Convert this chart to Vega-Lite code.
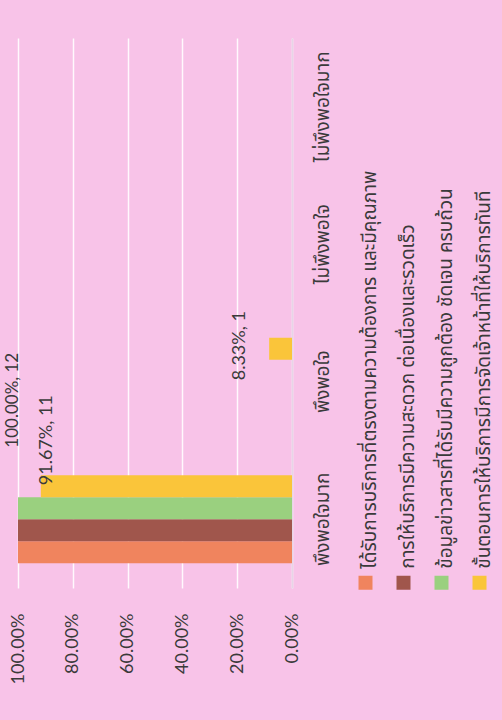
{
  "$schema": "https://vega.github.io/schema/vega-lite/v6.json",
  "width": 274,
  "height": 550,
  "autosize": "none",
  "padding": {"left": 18, "top": 38, "right": 210, "bottom": 132},
  "background": "#f8c3e8",
  "config": {
    "view": {"stroke": null},
    "font": "Lato",
    "legend": {
      "orient": "none",
      "legendX": 338,
      "legendY": 535,
      "direction": "horizontal",
      "symbolType": "square",
      "symbolSize": 196,
      "symbolStrokeWidth": 0,
      "labelOffset": -5,
      "labelAlign": "left",
      "labelBaseline": "middle",
      "labelLimit": 0,
      "labelFontSize": 19,
      "labelFont": "Noto Sans Thai, Tahoma, DejaVu Sans, sans-serif",
      "labelColor": "#3a3a3a",
      "columnPadding": 13
    }
  },
  "data": {
    "values": [
      {"category": "พึงพอใจมาก", "series": "ได้รับการบริการที่ตรงตามความต้องการ และมีคุณภาพ", "pct": 1.0, "count": 12},
      {"category": "พึงพอใจมาก", "series": "การให้บริการมีความสะดวก ต่อเนื่องและรวดเร็ว", "pct": 1.0, "count": 12},
      {"category": "พึงพอใจมาก", "series": "ข้อมูลข่าวสารที่ได้รับมีความถูกต้อง ชัดเจน ครบถ้วน", "pct": 1.0, "count": 12},
      {"category": "พึงพอใจมาก", "series": "ขั้นตอนการให้บริการมีการจัดเจ้าหน้าที่ให้บริการทันที", "pct": 0.9167, "count": 11},
      {"category": "พึงพอใจ", "series": "ได้รับการบริการที่ตรงตามความต้องการ และมีคุณภาพ", "pct": 0, "count": 0},
      {"category": "พึงพอใจ", "series": "การให้บริการมีความสะดวก ต่อเนื่องและรวดเร็ว", "pct": 0, "count": 0},
      {"category": "พึงพอใจ", "series": "ข้อมูลข่าวสารที่ได้รับมีความถูกต้อง ชัดเจน ครบถ้วน", "pct": 0, "count": 0},
      {"category": "พึงพอใจ", "series": "ขั้นตอนการให้บริการมีการจัดเจ้าหน้าที่ให้บริการทันที", "pct": 0.0833, "count": 1}
    ]
  },
  "transform": [
    {"calculate": "format(datum.pct, '.2%') + ', ' + datum.count", "as": "label"}
  ],
  "encoding": {
    "y": {
      "field": "category",
      "type": "nominal",
      "scale": {
        "domain": ["ไม่พึงพอใจมาก", "ไม่พึงพอใจ", "พึงพอใจ", "พึงพอใจมาก"],
        "paddingInner": 0.36,
        "paddingOuter": 0.18
      },
      "axis": {
        "orient": "right",
        "title": null,
        "ticks": false,
        "labelAngle": -90,
        "labelAlign": "center",
        "labelBaseline": "top",
        "labelPadding": 21,
        "labelFontSize": 19,
        "labelFont": "Noto Sans Thai, Tahoma, DejaVu Sans, sans-serif",
        "labelColor": "#3a3a3a",
        "domainColor": "#e6d6e6",
        "domainWidth": 1.5
      }
    },
    "x": {
      "field": "pct",
      "type": "quantitative",
      "scale": {"domain": [0, 1], "reverse": true, "nice": false},
      "axis": {
        "title": null,
        "values": [0, 0.2, 0.4, 0.6, 0.8, 1],
        "format": ".2%",
        "domain": false,
        "ticks": false,
        "labelAngle": -90,
        "labelPadding": 25,
        "labelFontSize": 18,
        "labelColor": "#3a3a3a",
        "gridColor": "#ffffff",
        "gridWidth": 1.5,
        "gridOpacity": 0.9
      }
    },
    "yOffset": {
      "field": "series",
      "type": "nominal",
      "scale": {
        "domain": [
          "ขั้นตอนการให้บริการมีการจัดเจ้าหน้าที่ให้บริการทันที",
          "ข้อมูลข่าวสารที่ได้รับมีความถูกต้อง ชัดเจน ครบถ้วน",
          "การให้บริการมีความสะดวก ต่อเนื่องและรวดเร็ว",
          "ได้รับการบริการที่ตรงตามความต้องการ และมีคุณภาพ"
        ],
        "paddingInner": 0,
        "paddingOuter": 0
      }
    }
  },
  "layer": [
    {
      "mark": {"type": "bar"},
      "encoding": {
        "color": {
          "field": "series",
          "type": "nominal",
          "title": null,
          "scale": {
            "domain": [
              "ได้รับการบริการที่ตรงตามความต้องการ และมีคุณภาพ",
              "การให้บริการมีความสะดวก ต่อเนื่องและรวดเร็ว",
              "ข้อมูลข่าวสารที่ได้รับมีความถูกต้อง ชัดเจน ครบถ้วน",
              "ขั้นตอนการให้บริการมีการจัดเจ้าหน้าที่ให้บริการทันที"
            ],
            "range": ["#f0845e", "#a0564c", "#9ad07f", "#fac53a"]
          },
          "legend": {
            "encoding": {
              "labels": {"angle": {"value": -90}, "dx": {"value": 14}}
            }
          }
        }
      }
    },
    {
      "transform": [{"filter": "datum.category == 'พึงพอใจมาก' && datum.count == 12 && indexof(datum.series, 'ข้อมูล') == 0"}],
      "mark": {"type": "text", "angle": -90, "align": "center", "baseline": "middle", "dx": 108, "dy": -5, "fontSize": 17, "color": "#3a3a3a"},
      "encoding": {"text": {"field": "label"}}
    },
    {
      "transform": [{"filter": "datum.category == 'พึงพอใจมาก' && datum.count == 11"}],
      "mark": {"type": "text", "angle": -90, "align": "center", "baseline": "middle", "dx": 46, "dy": 6, "fontSize": 18, "color": "#3a3a3a"},
      "encoding": {"text": {"field": "label"}}
    },
    {
      "transform": [{"filter": "datum.category == 'พึงพอใจ' && datum.count == 1"}],
      "mark": {"type": "text", "angle": -90, "align": "center", "baseline": "middle", "dx": 3, "dy": -29, "fontSize": 18, "color": "#3a3a3a"},
      "encoding": {"text": {"field": "label"}}
    }
  ]
}
